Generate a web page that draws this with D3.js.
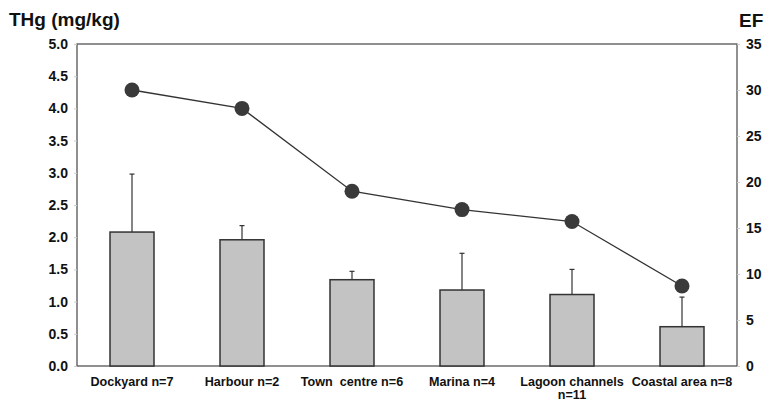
<!DOCTYPE html>
<html>
<head>
<meta charset="utf-8">
<script src="https://cdn.jsdelivr.net/npm/d3@7"></script>
<style>
  body { margin: 0; background: #fff; }
  text { font-family: "Liberation Sans", Arial, sans-serif; font-weight: bold; fill: #111; }
</style>
</head>
<body>
<script>
// site labels (second line where the label wraps)
const sites = ["Dockyard n=7", "Harbour n=2", "Town  centre n=6", "Marina n=4", "Lagoon channels", "Coastal area n=8"];
const siteSub = ["", "", "", "", "n=11", ""];
// mean THg (mg/kg) and upper error bar end
const thg = [2.08, 1.96, 1.34, 1.18, 1.11, 0.61];
const thgErr = [2.98, 2.18, 1.47, 1.75, 1.50, 1.07];
// enrichment factor
const ef = [30, 28, 19, 17, 15.7, 8.7];
const leftTicks = [0, 0.5, 1, 1.5, 2, 2.5, 3, 3.5, 4, 4.5, 5];
const rightTicks = [0, 5, 10, 15, 20, 25, 30, 35];

const W = 764, H = 401;
const MARGIN = { TOP: 44, BOTTOM: 35, LEFT: 77, RIGHT: 27 };

const svg = d3.select("body").append("svg")
    .attr("width", W)
    .attr("height", H);

const x = d3.scaleBand()
    .domain(sites)
    .range([MARGIN.LEFT, W - MARGIN.RIGHT])
    .paddingInner(0.6)
    .paddingOuter(0.3);

const yL = d3.scaleLinear().domain([0, 5]).range([H - MARGIN.BOTTOM, MARGIN.TOP]);
const yR = d3.scaleLinear().domain([0, 35]).range([H - MARGIN.BOTTOM, MARGIN.TOP]);

// frame
svg.append("rect")
    .attr("x", MARGIN.LEFT)
    .attr("y", MARGIN.TOP)
    .attr("width", W - MARGIN.LEFT - MARGIN.RIGHT)
    .attr("height", H - MARGIN.TOP - MARGIN.BOTTOM)
    .attr("fill", "none")
    .attr("stroke", "#555")
    .attr("stroke-width", 1.3);

// error bars (upper only)
const cx = d => x(d) + x.bandwidth() / 2;
svg.append("g").selectAll("line")
    .data(sites)
    .enter()
    .append("line")
    .attr("x1", d => cx(d))
    .attr("x2", d => cx(d))
    .attr("y1", (d, i) => yL(thg[i]))
    .attr("y2", (d, i) => yL(thgErr[i]))
    .attr("stroke", "#333")
    .attr("stroke-width", 1.2);
svg.append("g").selectAll("line")
    .data(sites)
    .enter()
    .append("line")
    .attr("x1", d => cx(d) - 2.5)
    .attr("x2", d => cx(d) + 2.5)
    .attr("y1", (d, i) => yL(thgErr[i]))
    .attr("y2", (d, i) => yL(thgErr[i]))
    .attr("stroke", "#333")
    .attr("stroke-width", 1.2);

// bars
svg.append("g").selectAll("rect")
    .data(sites)
    .enter()
    .append("rect")
    .attr("x", d => x(d))
    .attr("width", x.bandwidth())
    .attr("y", (d, i) => yL(thg[i]))
    .attr("height", (d, i) => yL(0) - yL(thg[i]))
    .attr("fill", "#c3c3c3")
    .attr("stroke", "#333")
    .attr("stroke-width", 1.5);

// EF line + dots
const line = d3.line()
    .x((d, i) => cx(sites[i]))
    .y(d => yR(d));
svg.append("path")
    .datum(ef)
    .attr("d", line)
    .attr("fill", "none")
    .attr("stroke", "#333")
    .attr("stroke-width", 1.3);
svg.append("g").selectAll("circle")
    .data(ef)
    .enter()
    .append("circle")
    .attr("cx", (d, i) => cx(sites[i]))
    .attr("cy", d => yR(d))
    .attr("r", 7.5)
    .attr("fill", "#3a3a3a");

// axes
const axL = svg.append("g")
    .attr("transform", `translate(${MARGIN.LEFT},0)`)
    .call(d3.axisLeft(yL).tickValues(leftTicks).tickFormat(d3.format(".1f")).tickSize(3).tickPadding(6));
const axR = svg.append("g")
    .attr("transform", `translate(${W - MARGIN.RIGHT},0)`)
    .call(d3.axisRight(yR).tickValues(rightTicks).tickSize(3).tickPadding(6));
[axL, axR].forEach(a => {
    a.select(".domain").remove();
    a.selectAll(".tick line").attr("stroke", "#ccc");
    a.selectAll(".tick text").attr("font-size", 14).attr("font-family", null).attr("fill", "#111");
});

// category labels
svg.append("g").selectAll("text")
    .data(sites)
    .enter()
    .append("text")
    .attr("x", d => cx(d))
    .attr("y", H - MARGIN.BOTTOM + 20)
    .attr("text-anchor", "middle")
    .attr("font-size", 12.6)
    .style("white-space", "pre")
    .text(d => d);
svg.append("g").selectAll("text")
    .data(sites)
    .enter()
    .append("text")
    .attr("x", d => cx(d))
    .attr("y", H - MARGIN.BOTTOM + 33)
    .attr("text-anchor", "middle")
    .attr("font-size", 12.6)
    .text((d, i) => siteSub[i]);

// axis titles
svg.append("text")
    .attr("x", 9)
    .attr("y", 26)
    .attr("font-size", 19)
    .text("THg (mg/kg)");
svg.append("text")
    .attr("x", 739)
    .attr("y", 27)
    .attr("font-size", 19)
    .text("EF");
</script>
</body>
</html>
